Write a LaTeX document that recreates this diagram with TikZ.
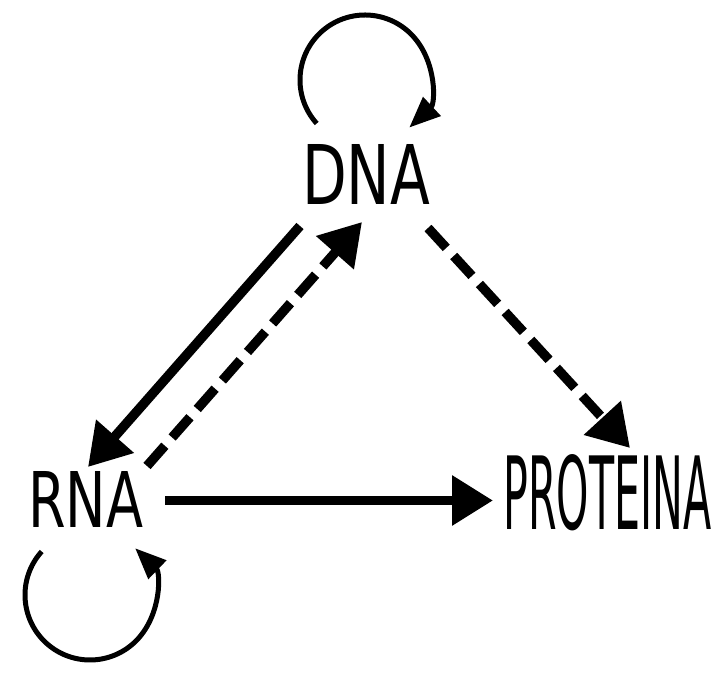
\documentclass[tikz,border=0pt]{standalone}
\usepackage{fontspec}
\setmainfont{DejaVu Sans}
\usepackage{graphicx}
\usetikzlibrary{arrows.meta}
\begin{document}
\begin{tikzpicture}[x=1pt,y=1pt,
  lbl/.style={inner sep=0pt, anchor=base west},
  mainarrow/.style={line width=9.5pt, -{Triangle[length=41pt,width=48pt]}},
  dasharrow/.style={mainarrow, dash pattern=on 27pt off 11pt},
  selfloop/.style={line width=5pt, -{Triangle[length=31pt,width=25pt]}}]
\useasboundingbox (0,0) rectangle (726,682);
% labels
\node[lbl] (dna)  at (302,477) {\resizebox{128pt}{60pt}{DNA}};
\node[lbl] (rna)  at (28,154)  {\resizebox{115pt}{56pt}{RNA}};
\node[lbl] (prot) at (503,152) {\resizebox{208pt}{75pt}{PROTEINA}};
% connector ends
\coordinate (dnaSW)   at (300,456);
\coordinate (rnaTip)  at (88,215);
\coordinate (rnaNE)   at (147,216);
\coordinate (dnaTip)  at (362,460);
\coordinate (dnaSE)   at (428,454);
\coordinate (protTip) at (630,234);
\coordinate (rnaE)    at (165,181.5);
\coordinate (protW)   at (493,181.5);
\coordinate (dnaLoop) at (365,602);
\coordinate (rnaLoop) at (90,87);
% connectors
\draw[mainarrow] (dnaSW) -- (rnaTip);
\draw[dasharrow] (rnaNE) -- (dnaTip);
\draw[dasharrow] (dnaSE) -- (protTip);
\draw[mainarrow] (rnaE) -- (protW);
% self loops
\draw[selfloop] (dnaLoop) ++(222:65) arc[start angle=222, end angle=-47, radius=65];
\draw[selfloop] (rnaLoop) ++(138:65) arc[start angle=138, end angle=406, radius=65];
\end{tikzpicture}
\end{document}
